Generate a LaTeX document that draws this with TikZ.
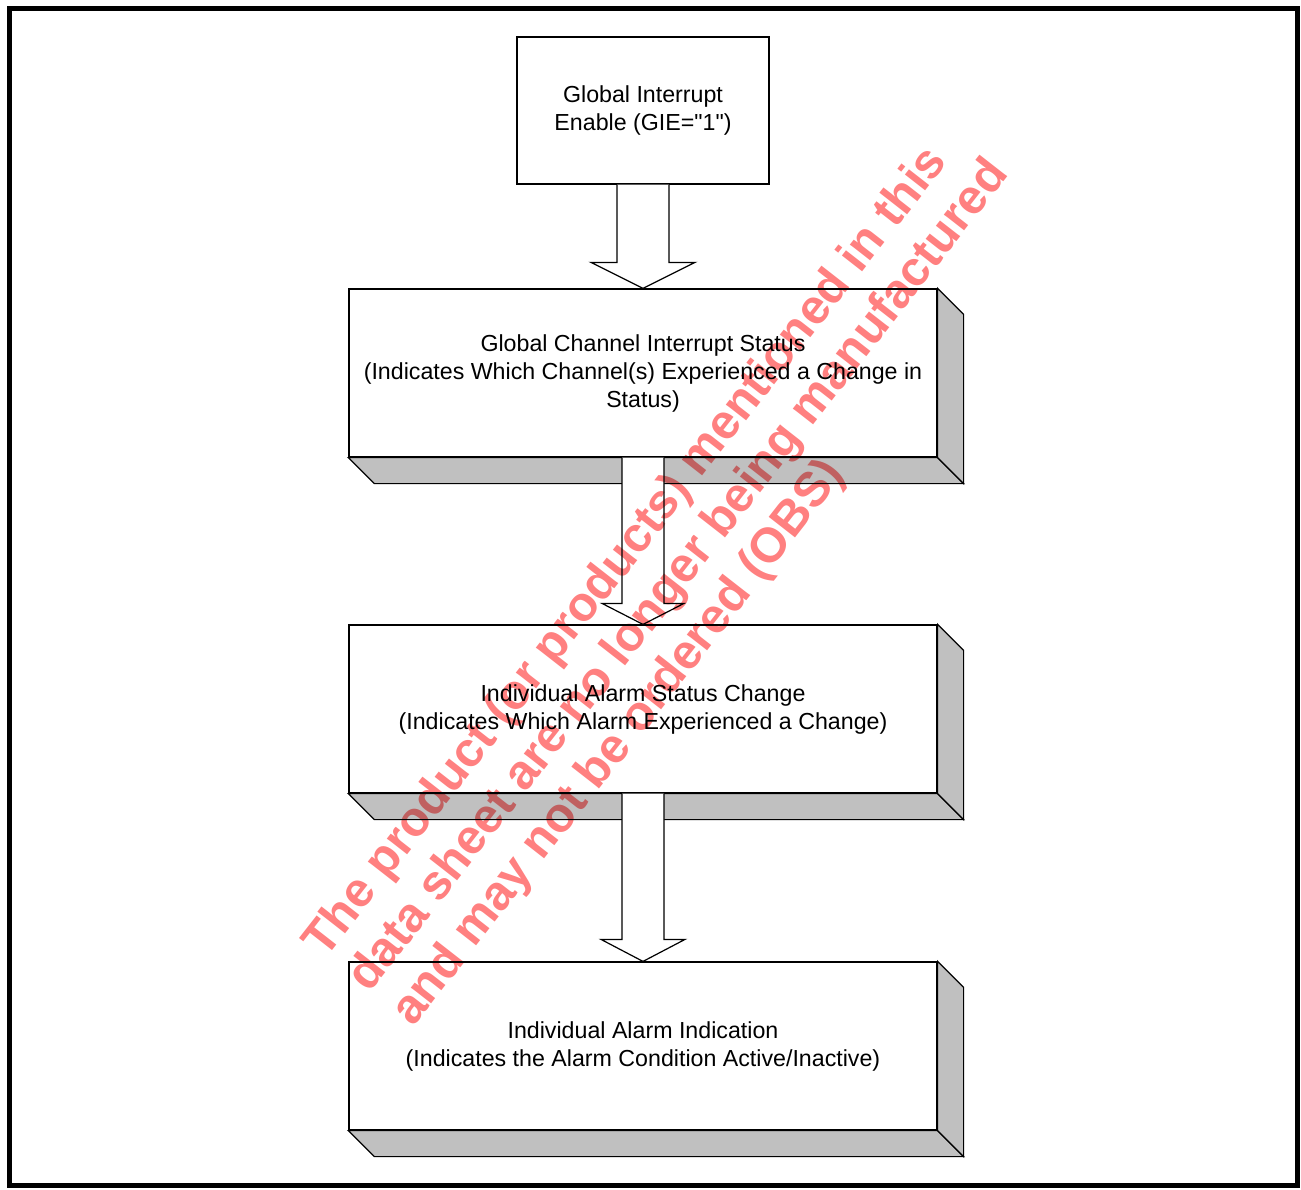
\documentclass[tikz,border=0pt]{standalone}
\usepackage{fontspec}
\setmainfont{Liberation Sans}
\usetikzlibrary{calc}
\definecolor{bevelgray}{RGB}{192,192,192}
\definecolor{obsred}{RGB}{255,128,128}

\tikzset{
  stepbox/.style={draw, fill=white, line width=0.6pt, minimum width=294pt, minimum height=84pt,
    inner sep=0pt, align=center, font=\fontsize{11.6}{14}\selectfont},
  bevel/.style={draw, fill=bevelgray, line width=0.6pt},
  fatarrow/.style={draw, fill=white, line width=0.6pt},
  obstext/.style={text=obsred, font=\bfseries\fontsize{24.3}{28}\selectfont, rotate=52,
    anchor=base west, inner sep=0pt}
}

% 3D edge below and right of a box
\newcommand\bevelbox[1]{%
  \path[bevel] (#1.south west) -- ++(13pt,-13pt) -- ($(#1.south east)+(13pt,-13pt)$) -- (#1.south east) -- cycle;
  \path[bevel] (#1.north east) -- ++(13pt,-13pt) -- ($(#1.south east)+(13pt,-13pt)$) -- (#1.south east) -- cycle;}
% hollow arrow: from, to, stem half width, head half width, head length
\newcommand\blockarrow[5]{%
  \path[fatarrow] ($(#1.south)+(-#3,0)$) -- ($(#2.north)+(-#3,#5)$) -- ($(#2.north)+(-#4,#5)$)
    -- (#2.north) -- ($(#2.north)+(#4,#5)$) -- ($(#2.north)+(#3,#5)$) -- ($(#1.south)+(#3,0)$);}

\begin{document}
\begin{tikzpicture}[x=0.5pt,y=-0.5pt]
\useasboundingbox (0,0) rectangle (1301,1189);
\draw[line width=2.5pt] (9.5,8.5) rectangle (1297,1185);

\node[stepbox, minimum width=126pt, minimum height=73.5pt] (gie) at (643,110.5) {Global Interrupt\\Enable (GIE=\textquotedbl 1\textquotedbl)};
\node[stepbox] (gcis) at (643,373) {Global Channel Interrupt Status\\(Indicates Which Channel(s) Experienced a Change in\\Status)};
\node[stepbox] (ias) at (643,709) {Individual Alarm Status Change\\(Indicates Which Alarm Experienced a Change)};
\node[stepbox] (aind) at (643,1046) {Individual Alarm Indication\\(Indicates the Alarm Condition Active/Inactive)};
\bevelbox{gcis}
\bevelbox{ias}
\bevelbox{aind}

\blockarrow{gie}{gcis}{13pt}{26pt}{13pt}
\blockarrow{gcis}{ias}{10.5pt}{20.5pt}{10.5pt}
\blockarrow{ias}{aind}{10.5pt}{21pt}{11pt}

\begin{scope}[blend mode=multiply]
\node[obstext] (obs1) at (325,960) {The product (or products) mentioned in this};
\node[obstext] (obs2) at (369,994) {data sheet are no longer being manufactured};
\node[obstext] (obs3) at (413,1028) {and may not be ordered (OBS)};
\end{scope}
\end{tikzpicture}
\end{document}
